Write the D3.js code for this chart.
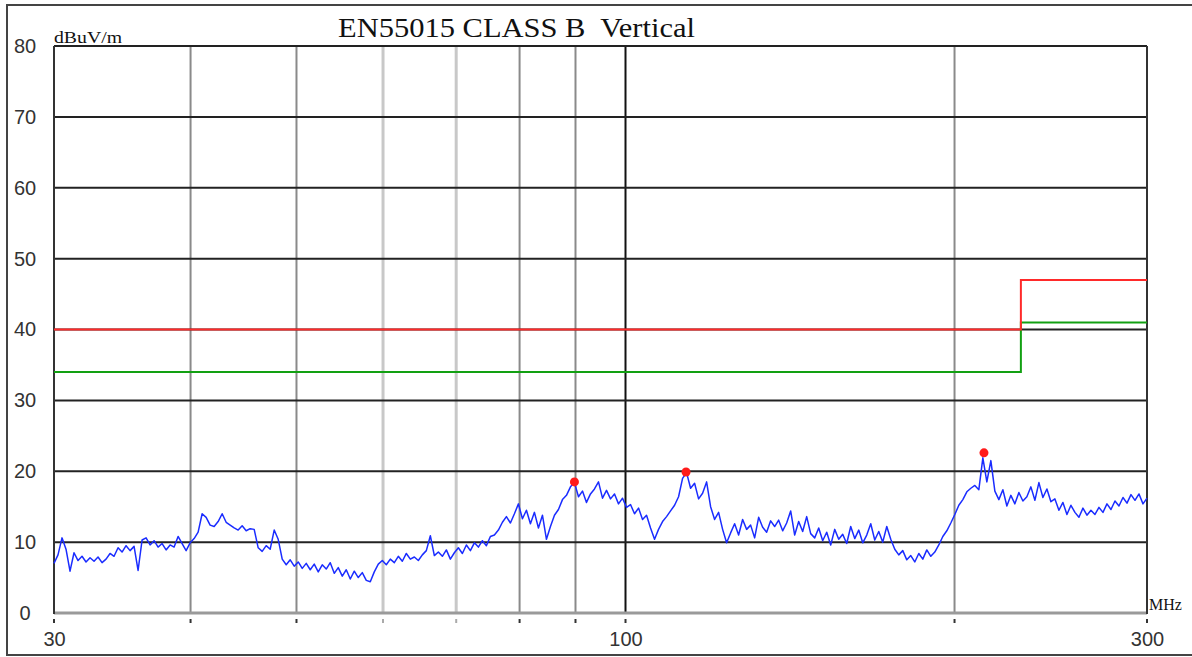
<!DOCTYPE html>
<html>
<head>
<meta charset="utf-8">
<script src="https://cdn.jsdelivr.net/npm/d3@7"></script>
<style>
html,body{margin:0;padding:0;background:#fff;}
svg{display:block;}
</style>
</head>
<body>
<svg id="chart" width="1192" height="657"></svg>
<script>
// ---------- data ----------
const titleText = "EN55015 CLASS B  Vertical";
const yUnit = "dBuV/m";
const xUnit = "MHz";
const yTicks = [0, 10, 20, 30, 40, 50, 60, 70, 80];
const xTickLabels = [30, 100, 300];
const gridFreqDark = [40, 50, 80, 90, 200];
const gridFreqLight = [60, 70];
const gridFreqMajor = [100];
const tickFreqs = [30, 40, 50, 60, 70, 80, 90, 100, 200, 300];

// limit lines (QP red, AV green)
const limitFreq = [30, 230, 230, 300];
const limitQP = [40, 40, 47, 47];
const limitAV = [34, 34, 41, 41];

// measured peaks
const peakFreq = [89.8, 113.6, 212.8];
const peakLevel = [18.5, 19.9, 22.6];

// sweep trace levels (dBuV/m), equally spaced in log frequency 30..300 MHz
const traceLevel = [
  7.0, 8.2, 10.6, 9.0, 5.9, 8.5, 7.4, 8.0, 7.2, 7.8,
  7.3, 7.9, 7.1, 7.6, 8.4, 8.0, 9.2, 8.6, 9.5, 8.8,
  9.4, 6.0, 10.3, 10.6, 9.6, 10.2, 9.3, 9.8, 8.9, 9.6,
  9.3, 10.8, 9.8, 8.8, 9.9, 10.5, 11.4, 14.0, 13.5, 12.4,
  12.2, 12.9, 14.0, 12.8, 12.4, 12.0, 11.7, 12.3, 11.6, 11.9,
  11.8, 9.2, 8.7, 9.5, 9.0, 11.7, 10.4, 7.6, 6.8, 7.5,
  6.6, 7.2, 6.3, 7.0, 6.1, 6.9, 5.8, 6.8, 6.2, 7.1,
  5.6, 6.4, 5.2, 6.1, 4.8, 5.9, 5.0, 5.7, 4.6, 4.4,
  5.8, 6.9, 7.4, 6.8, 7.6, 7.1, 8.0, 7.3, 8.4, 7.6,
  7.9, 7.4, 8.2, 8.8, 10.9, 8.1, 8.6, 8.0, 8.9, 7.6,
  8.5, 9.2, 8.4, 9.6, 8.8, 9.9, 9.3, 10.2, 9.5, 10.8,
  11.0, 11.7, 12.8, 13.6, 12.7, 14.0, 15.4, 13.3, 14.5, 12.6,
  14.2, 12.0, 13.8, 10.4, 12.2, 13.8, 14.6, 16.0, 16.6, 17.8,
  18.4, 16.4, 17.2, 15.6, 16.8, 17.5, 18.5, 16.2, 17.3, 16.1,
  16.8, 15.4, 16.2, 14.9, 15.3, 14.0, 14.8, 13.2, 13.8, 12.0,
  10.4, 11.8, 12.9, 13.6, 14.4, 15.2, 16.4, 19.0, 19.8, 17.6,
  18.3, 16.1, 16.9, 18.5, 15.0, 13.2, 14.2, 11.8, 9.9, 11.3,
  12.6, 11.0, 13.2, 11.8, 12.4, 10.6, 13.5, 12.1, 11.4, 13.0,
  12.2, 13.1, 11.6, 12.7, 14.4, 11.0, 12.9, 11.5, 13.6, 11.2,
  10.6, 12.0, 10.2, 11.4, 9.6, 11.8, 10.4, 11.1, 9.8, 12.2,
  10.5, 11.7, 9.9, 11.0, 12.6, 10.3, 11.5, 10.0, 12.2, 10.4,
  9.0, 8.2, 8.8, 7.5, 8.1, 7.2, 8.4, 7.6, 8.9, 8.0,
  8.6, 9.6, 10.8, 11.6, 12.7, 13.9, 15.2, 16.0, 17.1, 17.6,
  18.0, 17.4, 21.9, 18.5, 21.5, 17.2, 16.0, 17.4, 15.1, 16.6,
  15.4, 17.0, 15.8, 16.4, 17.8, 15.9, 18.4, 16.3, 17.5, 15.7,
  16.1, 14.5, 15.6, 13.9, 15.2, 14.2, 13.5, 14.8, 13.8, 14.5,
  13.9, 14.9, 14.2, 15.4, 14.6, 15.8, 15.1, 16.3, 15.5, 16.7,
  15.9, 16.8, 15.4, 16.2
];
const fStart = 30, fStop = 300;
const traceFreq = traceLevel.map((_, i) => fStart * Math.pow(fStop / fStart, i / (traceLevel.length - 1)));

// ---------- layout ----------
const L = 54, R = 1147, T = 46, B = 613;
const svg = d3.select("#chart");
const x = d3.scaleLog().domain([30, 300]).range([L, R]);
const y = d3.scaleLinear().domain([0, 80]).range([B, T]);

// outer frame
svg.append("rect").attr("x", 7).attr("y", 5).attr("width", 1200).attr("height", 650)
  .attr("fill", "#fff").attr("stroke", "#444").attr("stroke-width", 2);

// vertical grid
const g = svg.append("g");
g.selectAll(".vl").data(gridFreqLight).join("line")
  .attr("x1", d => x(d)).attr("x2", d => x(d)).attr("y1", T).attr("y2", B)
  .attr("stroke", "#c8c8c8").attr("stroke-width", 3);
g.selectAll(".vd").data(gridFreqDark).join("line")
  .attr("x1", d => x(d)).attr("x2", d => x(d)).attr("y1", T).attr("y2", B)
  .attr("stroke", "#8a8a8a").attr("stroke-width", 2);
g.selectAll(".vm").data(gridFreqMajor).join("line")
  .attr("x1", d => x(d)).attr("x2", d => x(d)).attr("y1", T).attr("y2", B)
  .attr("stroke", "#111").attr("stroke-width", 2);

// horizontal grid
g.selectAll(".hl").data(yTicks.filter(d => d > 0)).join("line")
  .attr("x1", L).attr("x2", R).attr("y1", d => y(d)).attr("y2", d => y(d))
  .attr("stroke", "#222").attr("stroke-width", 2);

// bottom axis line (gray)
svg.append("line").attr("x1", L).attr("x2", R).attr("y1", B).attr("y2", B)
  .attr("stroke", "#9a9a9a").attr("stroke-width", 3);
// left & right border
svg.append("line").attr("x1", L).attr("x2", L).attr("y1", T).attr("y2", B + 1)
  .attr("stroke", "#333").attr("stroke-width", 2);
svg.append("line").attr("x1", R).attr("x2", R).attr("y1", T).attr("y2", B + 1)
  .attr("stroke", "#333").attr("stroke-width", 2);

// small tick marks below axis
svg.selectAll(".tk").data(tickFreqs).join("line")
  .attr("x1", d => x(d)).attr("x2", d => x(d)).attr("y1", 619).attr("y2", 623)
  .attr("stroke", d => (d === 60 || d === 70) ? "#aaa" : "#333").attr("stroke-width", 2);

// limit lines
const limLine = d3.line().x(d => x(d[0])).y(d => y(d[1]));
svg.append("path").datum(limitFreq.map((f, i) => [f, limitAV[i]]))
  .attr("d", limLine).attr("fill", "none").attr("stroke", "#12a012").attr("stroke-width", 2);
svg.append("path").datum(limitFreq.map((f, i) => [f, limitQP[i]]))
  .attr("d", limLine).attr("fill", "none").attr("stroke", "#ff2a2a").attr("stroke-width", 2);

// trace
svg.append("path").datum(traceFreq.map((f, i) => [f, traceLevel[i]]))
  .attr("d", d3.line().x(d => x(d[0])).y(d => y(d[1])))
  .attr("fill", "none").attr("stroke", "#1a2cff").attr("stroke-width", 1.5)
  .attr("stroke-linejoin", "round");

// peak markers
svg.selectAll(".pk").data(peakFreq).join("circle")
  .attr("cx", d => x(d)).attr("cy", (d, i) => y(peakLevel[i])).attr("r", 4.5)
  .attr("fill", "#ff1a1a");

// y axis labels
const yAxis = d3.axisLeft(y).tickValues(yTicks).tickSize(0).tickPadding(0);
const ya = svg.append("g").attr("transform", "translate(25,0)").call(yAxis);
ya.select(".domain").remove();
ya.selectAll("text").attr("text-anchor", "middle").attr("x", 0).attr("dy", "0.32em")
  .style("font-family", "Liberation Sans, Arial, sans-serif").style("font-size", "20px").attr("fill", "#333");

// x axis labels
const xAxis = d3.axisBottom(x).tickValues(xTickLabels).tickFormat(d3.format("d")).tickSize(0).tickPadding(0);
const xa = svg.append("g").attr("transform", "translate(0,632)").call(xAxis);
xa.select(".domain").remove();
xa.selectAll("text").attr("dy", "0.71em")
  .style("font-family", "Liberation Sans, Arial, sans-serif").style("font-size", "20px").attr("fill", "#333");

// units
svg.append("text").attr("x", 54).attr("y", 43).text(yUnit)
  .attr("textLength", 68).attr("lengthAdjust", "spacingAndGlyphs")
  .style("font-family", "Liberation Serif, Times New Roman, serif").style("font-size", "16px").attr("fill", "#111");
svg.append("text").attr("x", 1149).attr("y", 610).text(xUnit)
  .style("font-family", "Liberation Serif, Times New Roman, serif").style("font-size", "16px").attr("fill", "#111");

// title
svg.append("text").attr("x", 338).attr("y", 37).text(titleText)
  .attr("textLength", 357).attr("lengthAdjust", "spacingAndGlyphs")
  .style("white-space", "pre")
  .style("font-family", "Liberation Serif, Times New Roman, serif").style("font-size", "27px").attr("fill", "#111");
</script>
</body>
</html>
